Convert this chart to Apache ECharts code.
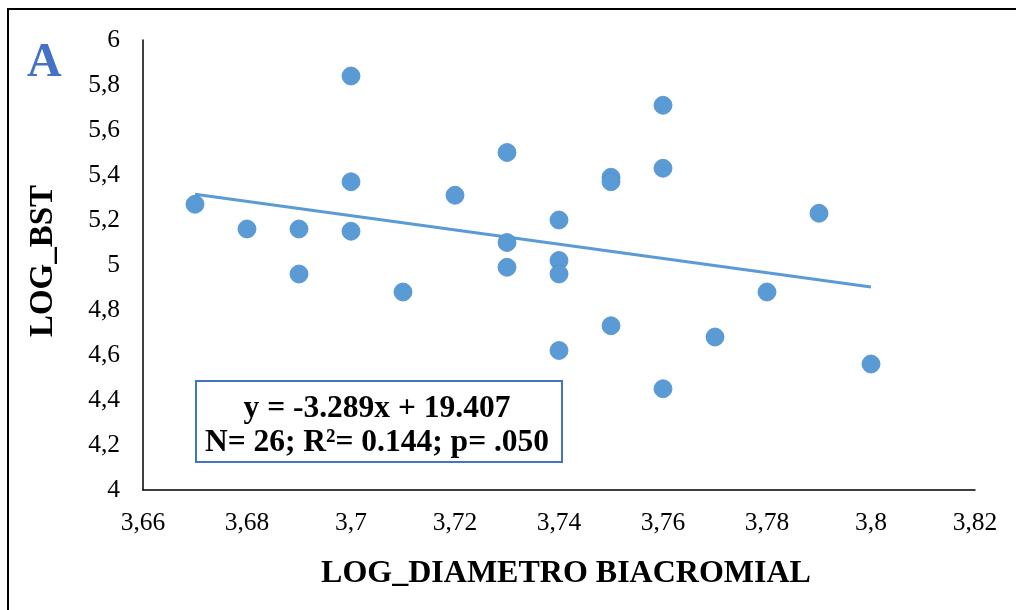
<!DOCTYPE html>
<html>
<head>
<meta charset="utf-8">
<script src="https://cdn.jsdelivr.net/npm/echarts@6/dist/echarts.min.js"></script>
<style>
  html, body { margin: 0; padding: 0; background: #fff; }
  #chart { width: 1016px; height: 610px; }
</style>
</head>
<body>
<div id="chart"></div>
<script>
// Log of biacromial diameter (x) and log BST (y), one entry per subject
const logDiametro = [
  3.67, 3.68, 3.69, 3.69, 3.70, 3.70, 3.70, 3.71, 3.72, 3.73, 3.73, 3.73, 3.74,
  3.74, 3.74, 3.74, 3.75, 3.75, 3.75, 3.76, 3.76, 3.76, 3.77, 3.78, 3.79, 3.80
];
const logBst = [
  5.27, 5.16, 5.16, 4.96, 5.84, 5.37, 5.15, 4.88, 5.31, 5.50, 5.10, 4.99, 5.20,
  5.02, 4.96, 4.62, 5.39, 5.37, 4.73, 5.71, 5.43, 4.45, 4.68, 4.88, 5.23, 4.56
];

// Axis tick labels (decimal comma)
const xTickLabels = ['3,66', '3,68', '3,7', '3,72', '3,74', '3,76', '3,78', '3,8', '3,82'];
const yTickLabels = ['4', '4,2', '4,4', '4,6', '4,8', '5', '5,2', '5,4', '5,6', '5,8', '6'];

// Annotation text
const statsLines = ['y = -3.289x + 19.407', 'N= 26; R²= 0.144; p= .050'];
const panelLetter = 'A';
const xTitle = 'LOG_DIAMETRO BIACROMIAL';
const yTitle = 'LOG_BST';

// Least-squares linear fit over the points
const n = logDiametro.length;
const mx = logDiametro.reduce((a, b) => a + b, 0) / n;
const my = logBst.reduce((a, b) => a + b, 0) / n;
let sxy = 0, sxx = 0;
for (let i = 0; i < n; i++) {
  sxy += (logDiametro[i] - mx) * (logBst[i] - my);
  sxx += (logDiametro[i] - mx) ** 2;
}
const slope = sxy / sxx;
const intercept = my - slope * mx;
const xMin = Math.min(...logDiametro), xMax = Math.max(...logDiametro);
const fitLine = [[xMin, intercept + slope * xMin], [xMax, intercept + slope * xMax]];

const points = logDiametro.map((x, i) => [x, logBst[i]]);

const SERIF = '"Liberation Serif", "Times New Roman", serif';
const BLUE = '#5B9BD5';
const DARK_BLUE = '#4472C4';

const chart = echarts.init(document.getElementById('chart'));
chart.setOption({
  backgroundColor: '#fff',
  animation: false,
  grid: { left: 143, right: 41, top: 40, bottom: 120 },
  xAxis: {
    type: 'value',
    min: 3.66, max: 3.82, interval: 0.02,
    axisLine: { show: true, onZero: false, lineStyle: { color: '#000', width: 1.5 } },
    axisTick: { show: false },
    splitLine: { show: false },
    axisLabel: {
      margin: 20,
      fontFamily: SERIF, fontSize: 25.5, color: '#000',
      formatter: (v, i) => xTickLabels[i]
    }
  },
  yAxis: {
    type: 'value',
    min: 4, max: 6, interval: 0.2,
    axisLine: { show: true, onZero: false, lineStyle: { color: '#000', width: 1.5 } },
    axisTick: { show: false },
    splitLine: { show: false },
    axisLabel: {
      margin: 23,
      fontFamily: SERIF, fontSize: 25.5, color: '#000',
      formatter: (v, i) => yTickLabels[i]
    }
  },
  series: [
    {
      type: 'line',
      data: fitLine,
      showSymbol: false,
      symbol: 'none',
      lineStyle: { color: BLUE, width: 3 },
      z: 2,
      silent: true
    },
    {
      type: 'scatter',
      data: points,
      symbolSize: 18,
      itemStyle: { color: BLUE, opacity: 1, borderColor: '#4d8fcd', borderWidth: 0.8 },
      z: 3
    }
  ],
  graphic: [
    // outer frame (top and left edges visible)
    {
      type: 'rect',
      shape: { x: 8, y: 9, width: 1040, height: 640 },
      style: { fill: 'none', stroke: '#000', lineWidth: 2 },
      silent: true
    },
    {
      type: 'text',
      left: 27, top: 40,
      style: {
        text: panelLetter,
        font: 'bold 48px ' + SERIF,
        fill: DARK_BLUE
      }
    },
    {
      type: 'text',
      x: 43, y: 261,
      rotation: Math.PI / 2,
      style: {
        text: yTitle,
        font: 'bold 33px ' + SERIF,
        fill: '#000',
        align: 'center',
        verticalAlign: 'middle'
      }
    },
    {
      type: 'text',
      x: 566, y: 574,
      style: {
        text: xTitle,
        font: 'bold 32px ' + SERIF,
        fill: '#000',
        align: 'center',
        verticalAlign: 'middle'
      }
    },
    {
      type: 'rect',
      shape: { x: 196, y: 381, width: 366, height: 81 },
      style: { fill: '#fff', stroke: DARK_BLUE, lineWidth: 2 },
      z: 10
    },
    {
      type: 'text',
      x: 377, y: 426,
      z: 11,
      style: {
        text: statsLines.join('\n'),
        font: 'bold 31.5px ' + SERIF,
        lineHeight: 34,
        fill: '#000',
        align: 'center',
        verticalAlign: 'middle'
      }
    }
  ]
});
</script>
</body>
</html>
